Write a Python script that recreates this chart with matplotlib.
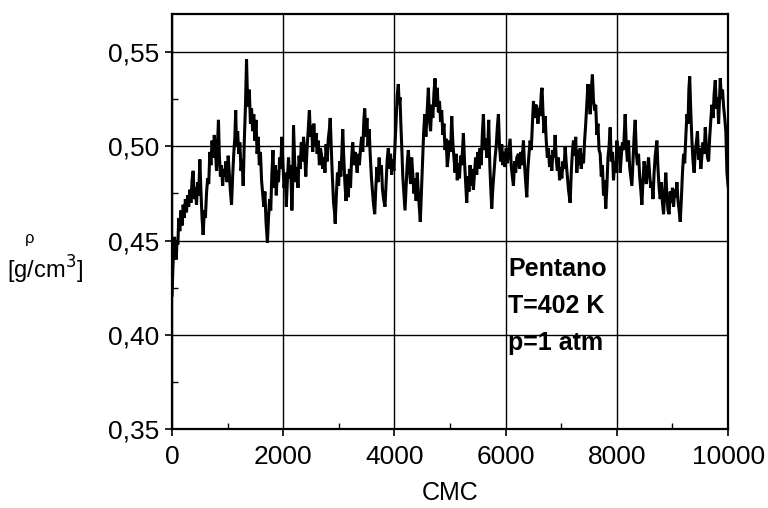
import matplotlib
matplotlib.use("Agg")
import matplotlib.pyplot as plt
from matplotlib.ticker import MultipleLocator, FuncFormatter

# CMC steps and density
cmc = [
    0, 15, 30, 45, 60, 75, 90, 105, 120, 140,
    160, 180, 200, 220, 240, 260, 280, 300, 320, 340,
    360, 380, 400, 420, 440, 460, 480, 500, 520, 540,
    560, 580, 600, 620, 640, 660, 680, 700, 720, 740,
    760, 780, 800, 820, 835, 850, 870, 890, 910, 930,
    950, 970, 990, 1010, 1030, 1050, 1070, 1090, 1110, 1130,
    1145, 1160, 1180, 1200, 1220, 1240, 1260, 1280, 1300, 1320,
    1340, 1355, 1370, 1390, 1410, 1430, 1450, 1470, 1490, 1510,
    1530, 1550, 1570, 1590, 1610, 1630, 1650, 1670, 1690, 1715,
    1735, 1755, 1775, 1795, 1815, 1835, 1855, 1875, 1895, 1915,
    1935, 1955, 1975, 1995, 2015, 2035, 2055, 2075, 2095, 2115,
    2135, 2155, 2170, 2185, 2205, 2225, 2245, 2265, 2285, 2305,
    2325, 2345, 2365, 2385, 2405, 2425, 2445, 2470, 2490, 2510,
    2530, 2550, 2570, 2590, 2610, 2630, 2650, 2670, 2690, 2710,
    2730, 2750, 2770, 2790, 2810, 2830, 2845, 2865, 2885, 2905,
    2920, 2935, 2955, 2975, 2995, 3015, 3035, 3055, 3070, 3090,
    3110, 3130, 3150, 3170, 3190, 3210, 3230, 3250, 3270, 3290,
    3310, 3330, 3350, 3370, 3390, 3410, 3430, 3450, 3465, 3485,
    3505, 3525, 3545, 3565, 3585, 3605, 3625, 3645, 3665, 3685,
    3705, 3725, 3745, 3765, 3785, 3805, 3830, 3850, 3870, 3890,
    3910, 3930, 3950, 3970, 3990, 4010, 4030, 4050, 4070, 4085,
    4100, 4115, 4135, 4150, 4170, 4190, 4210, 4230, 4250, 4270,
    4290, 4310, 4330, 4350, 4370, 4390, 4410, 4430, 4450, 4465,
    4485, 4505, 4525, 4545, 4565, 4590, 4610, 4630, 4650, 4670,
    4690, 4710, 4730, 4750, 4770, 4790, 4810, 4830, 4850, 4870,
    4890, 4910, 4930, 4950, 4970, 4990, 5010, 5030, 5050, 5070,
    5090, 5110, 5130, 5150, 5170, 5190, 5210, 5240, 5260, 5280,
    5300, 5320, 5340, 5360, 5380, 5400, 5420, 5440, 5460, 5480,
    5500, 5520, 5540, 5560, 5580, 5600, 5620, 5640, 5660, 5680,
    5695, 5715, 5735, 5750, 5770, 5790, 5810, 5830, 5850, 5870,
    5890, 5910, 5930, 5950, 5970, 5990, 6010, 6030, 6050, 6080,
    6100, 6120, 6140, 6160, 6180, 6200, 6230, 6250, 6270, 6290,
    6320, 6340, 6360, 6380, 6400, 6420, 6440, 6460, 6480, 6500,
    6520, 6540, 6560, 6580, 6600, 6620, 6640, 6655, 6670, 6690,
    6710, 6730, 6750, 6770, 6790, 6810, 6830, 6850, 6870, 6890,
    6910, 6930, 6950, 6970, 6990, 7010, 7030, 7050, 7070, 7090,
    7110, 7130, 7160, 7180, 7200, 7220, 7240, 7260, 7280, 7300,
    7320, 7340, 7360, 7380, 7400, 7420, 7440, 7460, 7480, 7500,
    7520, 7540, 7560, 7580, 7600, 7620, 7640, 7660, 7680, 7700,
    7720, 7740, 7760, 7780, 7800, 7820, 7840, 7860, 7880, 7900,
    7920, 7940, 7960, 7980, 8000, 8020, 8040, 8060, 8080, 8100,
    8120, 8150, 8170, 8190, 8210, 8230, 8250, 8270, 8290, 8310,
    8330, 8350, 8370, 8390, 8410, 8430, 8450, 8470, 8490, 8510,
    8530, 8550, 8570, 8590, 8610, 8630, 8650, 8670, 8690, 8720,
    8740, 8760, 8780, 8800, 8820, 8840, 8860, 8880, 8900, 8920,
    8940, 8960, 8980, 9000, 9020, 9040, 9060, 9080, 9100, 9120,
    9140, 9160, 9180, 9200, 9220, 9240, 9260, 9280, 9295, 9310,
    9330, 9350, 9370, 9390, 9410, 9430, 9450, 9470, 9490, 9510,
    9530, 9550, 9570, 9590, 9610, 9630, 9650, 9670, 9690, 9710,
    9730, 9750, 9770, 9790, 9810, 9830, 9845, 9860, 9880, 9900,
    9920, 9940, 9960, 9980, 10000,
]
rho = [
    .421, .435, .447, .452, .446, .440, .450, .448, .462, .455,
    .466, .458, .469, .462, .472, .465, .474, .468, .477, .470,
    .482, .487, .472, .478, .469, .481, .474, .493, .476, .462,
    .453, .466, .462, .475, .483, .480, .497, .490, .503, .494,
    .506, .498, .487, .502, .514, .496, .484, .490, .479, .488,
    .484, .492, .481, .495, .485, .476, .469, .484, .496, .505,
    .519, .500, .508, .496, .502, .487, .493, .479, .503, .521,
    .546, .528, .521, .530, .512, .520, .508, .517, .503, .514,
    .496, .505, .490, .497, .482, .475, .468, .476, .460, .449,
    .462, .472, .466, .485, .498, .478, .490, .474, .487, .481,
    .494, .488, .505, .490, .478, .486, .468, .482, .494, .483,
    .490, .466, .480, .511, .492, .481, .489, .478, .495, .488,
    .502, .492, .505, .497, .484, .497, .507, .519, .505, .511,
    .497, .512, .500, .507, .496, .503, .490, .499, .495, .488,
    .494, .486, .501, .492, .504, .509, .515, .498, .483, .470,
    .466, .459, .474, .486, .479, .492, .484, .497, .509, .493,
    .480, .471, .485, .473, .488, .478, .494, .502, .490, .497,
    .492, .486, .496, .490, .499, .505, .497, .514, .520, .505,
    .515, .500, .509, .495, .484, .476, .469, .464, .478, .489,
    .481, .494, .485, .490, .477, .472, .468, .480, .493, .499,
    .488, .496, .485, .493, .487, .500, .514, .527, .533, .522,
    .526, .512, .497, .484, .475, .466, .479, .491, .498, .488,
    .480, .494, .485, .475, .483, .471, .486, .475, .466, .460,
    .476, .492, .507, .517, .505, .520, .531, .514, .508, .522,
    .515, .528, .536, .521, .531, .518, .524, .513, .519, .506,
    .512, .498, .504, .489, .495, .503, .497, .516, .502, .494,
    .486, .496, .482, .491, .483, .495, .490, .507, .492, .481,
    .470, .484, .476, .490, .479, .488, .477, .486, .494, .485,
    .497, .488, .499, .490, .506, .517, .498, .504, .494, .500,
    .514, .490, .476, .467, .478, .486, .494, .500, .510, .517,
    .500, .492, .501, .490, .497, .489, .499, .491, .496, .504,
    .490, .484, .479, .492, .486, .494, .496, .488, .497, .490,
    .503, .490, .481, .473, .488, .496, .503, .498, .511, .524,
    .515, .522, .521, .512, .520, .516, .528, .531, .519, .507,
    .516, .503, .494, .499, .489, .495, .487, .498, .494, .506,
    .493, .487, .494, .482, .489, .483, .492, .488, .500, .491,
    .484, .477, .470, .486, .497, .503, .495, .505, .486, .498,
    .490, .499, .488, .496, .491, .503, .512, .522, .533, .526,
    .517, .530, .538, .524, .519, .522, .506, .512, .498, .496,
    .484, .490, .474, .482, .467, .478, .494, .500, .510, .492,
    .497, .482, .492, .486, .503, .494, .500, .486, .495, .502,
    .498, .517, .500, .492, .503, .489, .484, .479, .492, .505,
    .514, .497, .490, .496, .484, .477, .469, .482, .492, .486,
    .480, .488, .494, .485, .478, .481, .472, .486, .495, .503,
    .488, .478, .472, .481, .470, .464, .475, .486, .474, .466,
    .464, .476, .470, .478, .468, .477, .473, .481, .471, .466,
    .460, .472, .486, .496, .491, .505, .517, .512, .530, .537,
    .518, .503, .492, .486, .497, .502, .508, .493, .499, .488,
    .495, .502, .496, .510, .500, .494, .492, .505, .514, .522,
    .515, .528, .535, .520, .526, .512, .524, .536, .525, .530,
    .521, .515, .508, .486, .479,
]

x_ticks = [0, 2000, 4000, 6000, 8000, 10000]
y_ticks = [0.35, 0.40, 0.45, 0.50, 0.55]
info_lines = ["Pentano", "T=402 K", "p=1 atm"]

plt.rcParams['font.family'] = ['Liberation Sans', 'DejaVu Sans']

fig = plt.figure(figsize=(7.68, 5.08), dpi=100)
ax = fig.add_axes([0.224, 0.155, 0.724, 0.817])

ax.plot(cmc, rho, color='black', linewidth=2.2, solid_joinstyle='miter')

ax.set_xlim(0, 10000)
ax.set_ylim(0.35, 0.57)
ax.set_xticks(x_ticks)
ax.set_yticks(y_ticks)
ax.xaxis.set_minor_locator(MultipleLocator(1000))
ax.yaxis.set_minor_locator(MultipleLocator(0.025))
ax.yaxis.set_major_formatter(FuncFormatter(lambda v, p: f"{v:.2f}".replace('.', ',')))
ax.xaxis.set_major_formatter(FuncFormatter(lambda v, p: f"{int(round(v))}"))

ax.grid(True, which='major', color='black', linewidth=1.0)
ax.tick_params(which='major', direction='out', length=5, width=1.2,
               labelsize=19, pad=4)
ax.tick_params(which='minor', direction='in', length=4, width=1.0)
ax.tick_params(axis='x', which='major', pad=6)
for s in ax.spines.values():
    s.set_linewidth(1.6)

ax.set_xlabel('CMC', fontsize=18, labelpad=9)

# Y label drawn as two pieces, like in the original scan
fig.text(30 / 768, 1 - 238 / 508, 'ρ', fontsize=12, ha='center', va='center')
fig.text(45 / 768, 1 - 270 / 508, '[g/cm$^3$]', fontsize=17, ha='center', va='center')

for i, line in enumerate(info_lines):
    ax.text(6050, 0.435 - i * 0.0197, line, fontsize=18, fontweight='bold',
            ha='left', va='center')

fig.savefig('out.png', dpi=100)
